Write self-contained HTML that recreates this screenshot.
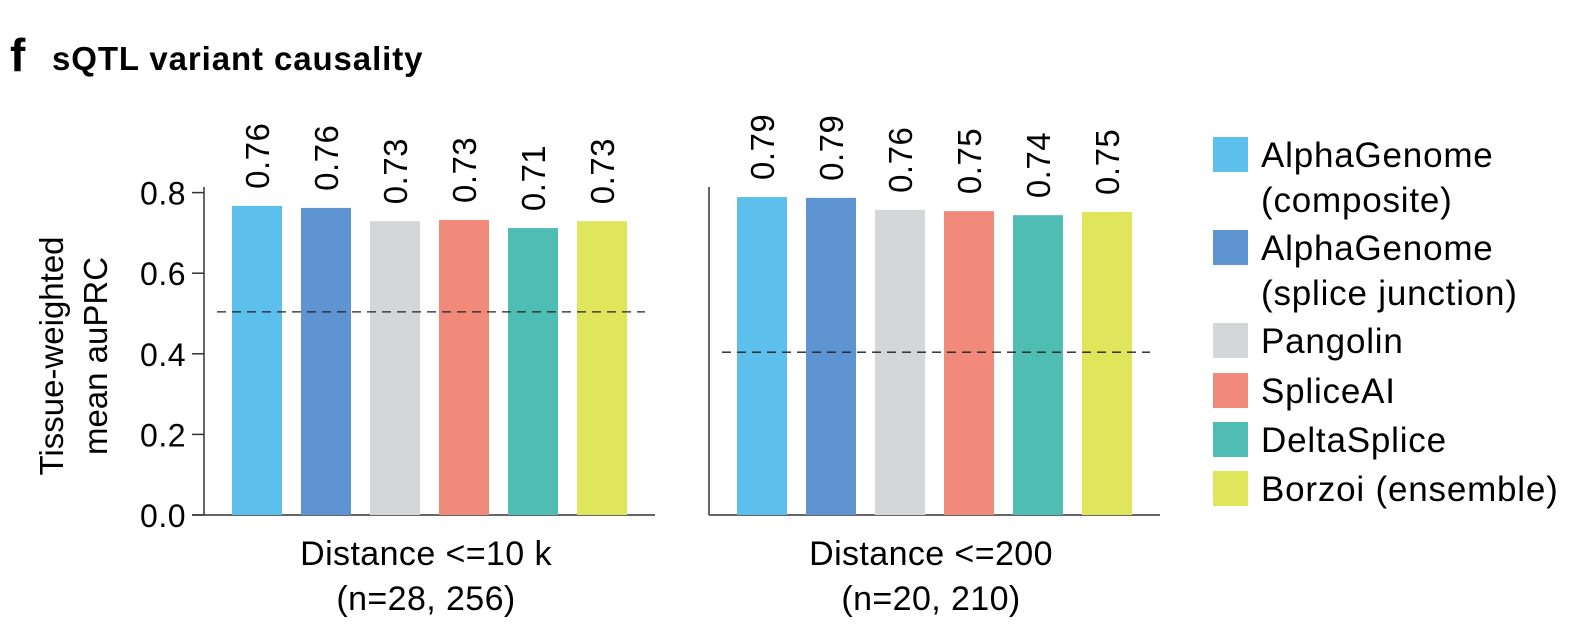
<!DOCTYPE html>
<html><head><meta charset="utf-8"><style>
body{margin:0;background:#fff;}
svg{display:block;font-family:"Liberation Sans",Arial,sans-serif;}
</style></head><body>
<svg id="c" width="1576" height="636" viewBox="0 0 1576 636">
<text x="10" y="71" font-size="46" font-weight="bold">f</text>
<text x="52" y="70" font-size="33" font-weight="bold" letter-spacing="0.9">sQTL variant causality</text>
<g transform="translate(63,356) rotate(-90)">
<text x="0" y="0" font-size="33" text-anchor="middle">Tissue-weighted</text>
<text x="0" y="44" font-size="33" text-anchor="middle">mean auPRC</text>
</g>
<g id="plot"></g>
<g id="legend"></g>
</svg>
<script>
const models=["AlphaGenome (composite)","AlphaGenome (splice junction)","Pangolin","SpliceAI","DeltaSplice","Borzoi (ensemble)"];
const colors=["#5dc0ec","#5d94d1","#d4d6d7","#f28a7b","#50bdb5","#e0e65c"];
const panelLabels=["Distance <=10 k","Distance <=200"];
const panelN=["(n=28, 256)","(n=20, 210)"];
const valuesP1=[0.767,0.762,0.729,0.732,0.712,0.729];
const valuesP2=[0.789,0.787,0.757,0.754,0.744,0.752];
const labelsP1=["0.76","0.76","0.73","0.73","0.71","0.73"];
const labelsP2=["0.79","0.79","0.76","0.75","0.74","0.75"];
const baselines=[0.504,0.404];
const yTicks=[0,0.2,0.4,0.6,0.8];
const yTickLabels=["0.0","0.2","0.4","0.6","0.8"];
const NS="http://www.w3.org/2000/svg";
const y0=515, pxPer=403;
const y=v=>y0-v*pxPer;
function mk(t,a,p){const e=document.createElementNS(NS,t);for(const k in a)e.setAttribute(k,a[k]);p.appendChild(e);return e;}
const plot=document.getElementById('plot');
const panels=[{vals:valuesP1,labs:labelsP1,ax:204},{vals:valuesP2,labs:labelsP2,ax:709}];
panels.forEach((p,pi)=>{
  const g=mk('g',{},plot);
  
  
  const ya=mk('line',{x1:p.ax,x2:p.ax,y1:187,y2:y0,stroke:'#333','stroke-width':1.5},g);
  
  
  const xa=mk('line',{x1:p.ax-(pi===0?12:0),x2:p.ax+451,y1:y0,y2:y0,stroke:'#333','stroke-width':1.5},g);
  
  
  if(pi===0){
    yTicks.forEach((t,i)=>{
      const tk=mk('line',{x1:p.ax-12,x2:p.ax,y1:y(t),y2:y(t),stroke:'#333','stroke-width':1.5},g);
      
      
      const tl=mk('text',{x:p.ax-18,y:y(t)+12,'font-size':32,'text-anchor':'end','letter-spacing':0.5},g);
      tl.textContent=yTickLabels[i];
      
      
    });
  }
  p.vals.forEach((v,i)=>{
    const x=p.ax+28+i*69;
    const r=mk('rect',{x:x,y:y(v),width:50,height:y0-y(v),fill:colors[i]},g);
    
    
    const lx=x+25+12, ly=y(v)-17;
    const t=mk('text',{x:lx,y:ly,'font-size':33,'letter-spacing':0.5,transform:`rotate(-90 ${lx} ${ly})`},g);
    t.textContent=p.labs[i];
    
    
  });
  const d=mk('line',{x1:p.ax+13,x2:p.ax+441,y1:y(baselines[pi]),y2:y(baselines[pi]),stroke:'#222','stroke-width':1.3,'stroke-dasharray':'9,6'},g);
  
  
  const cx=p.ax+222;
  const a=mk('text',{x:cx,y:565,'font-size':34,'text-anchor':'middle','letter-spacing':0.4},g);
  a.textContent=panelLabels[pi];
  
  
  const b=mk('text',{x:cx,y:610,'font-size':34,'text-anchor':'middle','letter-spacing':0.4},g);
  b.textContent=panelN[pi];
  
  
});
const leg=document.getElementById('legend');
const legLines=[["AlphaGenome","(composite)"],["AlphaGenome","(splice junction)"],["Pangolin"],["SpliceAI"],["DeltaSplice"],["Borzoi (ensemble)"]];
const legTop=[137,230,323,373,422,471];
legLines.forEach((ls,i)=>{
  const g=mk('g',{},leg);
  
  
  const s=mk('rect',{x:1213,y:legTop[i],width:35,height:35,fill:colors[i]},g);
  
  
  ls.forEach((l,j)=>{
    const t=mk('text',{x:1261,y:legTop[i]+30+j*45,'font-size':35,'letter-spacing':0.8},g);
    t.textContent=l;
    
    
  });
});
</script>
</body></html>
